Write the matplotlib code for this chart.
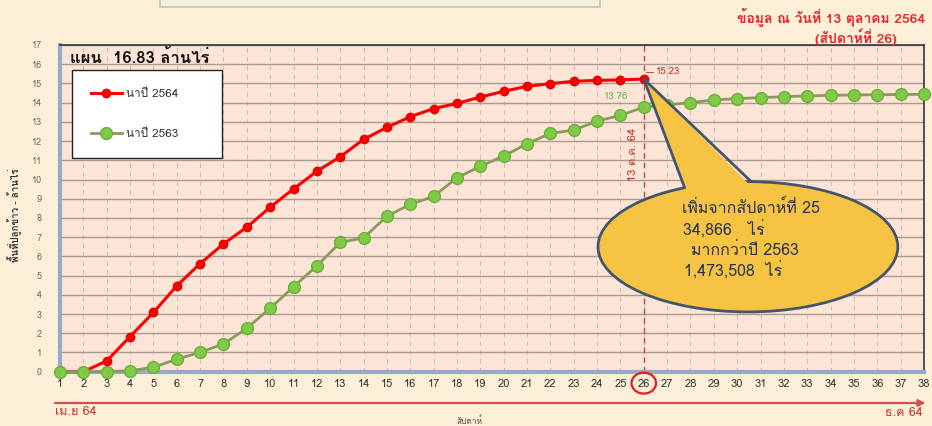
import matplotlib
matplotlib.use("Agg")
import matplotlib.pyplot as plt
import numpy as np
from matplotlib.patches import Ellipse, Polygon, Rectangle
from matplotlib import font_manager as fm
from matplotlib.ft2font import FT2Font
import matplotlib.transforms as mtransforms

# ---------------- data ----------------
weeks = list(range(1, 39))
week_labels = [str(w) for w in weeks]
y_ticks = list(range(0, 18))

weeks_2564 = list(range(1, 27))
area_2564 = [0.0, 0.0, 0.56, 1.83, 3.08, 4.47, 5.62, 6.65, 7.52, 8.56,
             9.51, 10.43, 11.18, 12.09, 12.71, 13.27, 13.69, 13.96, 14.29, 14.59,
             14.85, 14.99, 15.11, 15.16, 15.18, 15.23]

weeks_2563 = list(range(1, 39))
area_2563 = [0.0, 0.0, 0.0, 0.05, 0.23, 0.65, 1.01, 1.44, 2.26, 3.3,
             4.42, 5.5, 6.73, 6.96, 8.09, 8.71, 9.12, 10.09, 10.69, 11.22,
             11.86, 12.40, 12.57, 13.04, 13.34, 13.76, 13.88, 14.0, 14.14, 14.21,
             14.26, 14.31, 14.35, 14.38, 14.40, 14.41, 14.43, 14.43]

label_2564 = "นาปี 2564"
label_2563 = "นาปี 2563"
plan_text = "แผน  16.83 ล้านไร่"
date_text = "ข้อมูล ณ วันที่ 13 ตุลาคม 2564"
week_text = "(สัปดาห์ที่ 26)"
vline_text = "13 ต.ค. 64"
callout_lines = ["เพิ่มจากสัปดาห์ที่ 25", "34,866   ไร่", "มากกว่าปี 2563", "1,473,508  ไร่"]
current_week = 26

# ---------------- fonts ----------------
thai_fams = []
for f in fm.fontManager.ttflist:
    try:
        cm = FT2Font(f.fname).get_charmap()
        if 0x0E01 in cm and f.name not in thai_fams:
            thai_fams.append(f.name)
    except Exception:
        pass
fams = thai_fams + ["DejaVu Sans"]
plt.rcParams["font.family"] = fams

# ---------------- figure ----------------
fig = plt.figure(figsize=(9.32, 4.26), dpi=100)
fig.patch.set_facecolor("#FBEFD8")
ax = fig.add_axes([0.0644, 0.1275, 0.927, 0.7669])
ax.set_facecolor("#FCE4D6")

ax.set_xlim(1, 38)
ax.set_ylim(0, 17)
ax.set_xticks(weeks)
ax.set_xticklabels(week_labels, fontsize=8, color="#333333")
ax.set_yticks(y_ticks)
ax.set_yticklabels([str(v) for v in y_ticks], fontsize=6.5, color="#6A6A6A")
ax.tick_params(axis="x", length=0, pad=5)
ax.tick_params(axis="y", length=0, pad=13)

ax.grid(axis="y", color="#A89C92", lw=1.0, zorder=0)
ax.grid(axis="x", color="#CDBFB3", lw=0.8, ls=(0, (4, 4)), zorder=0)
ax.set_axisbelow(True)

for s in ["left", "bottom"]:
    ax.spines[s].set_color("#9AA8C4")
    ax.spines[s].set_linewidth(3)
for s in ["top", "right"]:
    ax.spines[s].set_color("#2F3440")
    ax.spines[s].set_linewidth(1.2)

# series
ax.plot(weeks_2564, area_2564, color="#FF0000", lw=2.2, marker="o", ms=6,
        mfc="#FF0000", mec="#E00000", label=label_2564, zorder=3, clip_on=False)
ax.plot(weeks_2563, area_2563, color="#8A9A5B", lw=2.0, marker="o", ms=8.5,
        mfc="#7FCB45", mec="#6AAE3A", label=label_2563, zorder=4, clip_on=False)

# vertical dashed line at current week
ax.axvline(current_week, color="#D04040", lw=1.0, ls=(0, (4, 3)), zorder=2)
ax.text(current_week - 0.45, 11.3, vline_text, rotation=90, color="#C0302A",
        fontsize=8, ha="center", va="center", zorder=6)

# value labels
ax.text(current_week + 0.5, area_2564[-1] + 0.38, f"{area_2564[-1]:.2f}",
        color="#C0302A", fontsize=7, ha="left", va="center", zorder=6)
ax.plot([current_week + 0.1, current_week + 0.4],
        [area_2564[-1] + 0.38, area_2564[-1] + 0.38], color="#C0302A", lw=0.6)
ax.text(current_week - 0.65, area_2563[current_week - 1] + 0.55,
        f"{area_2563[current_week - 1]:.2f}", color="#6FB04A", fontsize=7,
        ha="right", va="center", zorder=6)

# callout
ecx, ecy, ea, eb = 30.46, 6.5, 6.42, 3.39
ell = Ellipse((ecx, ecy), 2 * ea, 2 * eb, facecolor="#F6C343",
              edgecolor="#44546A", lw=2, zorder=7)
ax.add_patch(ell)
bx = [27.75, 30.6]
by = [ecy + eb * np.sqrt(1 - ((x - ecx) / ea) ** 2) for x in bx]
tip = (current_week, area_2564[-1])
poly = Polygon([tip, (bx[0] + 0.05, by[0] - 0.25), (bx[1], by[1] - 0.25)],
               closed=True, facecolor="#F6C343", edgecolor="none", zorder=8)
ax.add_patch(poly)
ax.plot([tip[0], bx[0]], [tip[1], by[0]], color="#44546A", lw=2, zorder=9,
        solid_capstyle="round")
ax.plot([tip[0], bx[1]], [tip[1], by[1]], color="#44546A", lw=2, zorder=9,
        solid_capstyle="round")
cl_pos = [(30.6, 8.5), (29.45, 7.4), (30.35, 6.3), (29.85, 5.25)]
for (tx, ty), t in zip(cl_pos, callout_lines):
    ax.text(tx, ty, t, fontsize=11.5, color="#26334F", ha="center",
            va="center", zorder=10)

# plan title
ax.text(0.011, 0.962, plan_text, transform=ax.transAxes, fontsize=12,
        fontweight="bold", color="#111111", ha="left", va="center", zorder=6)

# legend
leg = ax.legend(loc="upper left", bbox_to_anchor=(0.014, 0.669, 0.1736, 0.2545),
                mode="expand", frameon=True, fancybox=False, edgecolor="#222222",
                facecolor="white", framealpha=1, fontsize=8.5,
                labelspacing=2.5, borderpad=1.6, handlelength=2.6,
                handletextpad=0.4, borderaxespad=0)
leg.get_frame().set_linewidth(1.0)
leg.set_zorder(6)
for t in leg.get_texts():
    t.set_color("#333333")

# circle around current week tick label
trans = mtransforms.blended_transform_factory(ax.transData, ax.transAxes)
circ = Ellipse((current_week, -0.035), 1.05, 0.064, transform=trans,
               facecolor="none", edgecolor="#E02020", lw=1.6, clip_on=False,
               zorder=10)
ax.add_artist(circ)

# top-right date text
fig.text(0.9925, 0.958, date_text, color="#E8262B", fontsize=10,
         fontweight="bold", ha="right", va="center")
fig.text(0.918, 0.913, week_text, color="#E8262B", fontsize=10,
         fontweight="bold", ha="center", va="center")

# y label
fig.text(0.016, 0.495, "พื้นที่ปลูกข้าว - ล้านไร่", rotation=90, fontsize=7,
         fontweight="bold", color="#333333", ha="center", va="center")

# top box and bottom time arrow
fig.patches.append(Rectangle((0.172, 0.984), 0.472, 0.03, transform=fig.transFigure,
                             facecolor="#F4F0E0", edgecolor="#C8C2B0", lw=1.2))
ax.annotate("", xy=(0.993, 0.054), xytext=(0.059, 0.054),
            xycoords="figure fraction", textcoords="figure fraction",
            arrowprops=dict(arrowstyle="-|>", color="#D05050", lw=1.6,
                            mutation_scale=10, shrinkA=0, shrinkB=0))
fig.text(0.059, 0.033, "เม.ย 64", color="#C0392B", fontsize=9, ha="left",
         va="center")
fig.text(0.99, 0.031, "ธ.ค 64", color="#C0392B", fontsize=9, ha="right",
         va="center")
fig.text(0.504, 0.012, "สัปดาห์", color="#555555", fontsize=6, ha="center",
         va="center")

fig.savefig("out.png", dpi=100, facecolor=fig.get_facecolor())
